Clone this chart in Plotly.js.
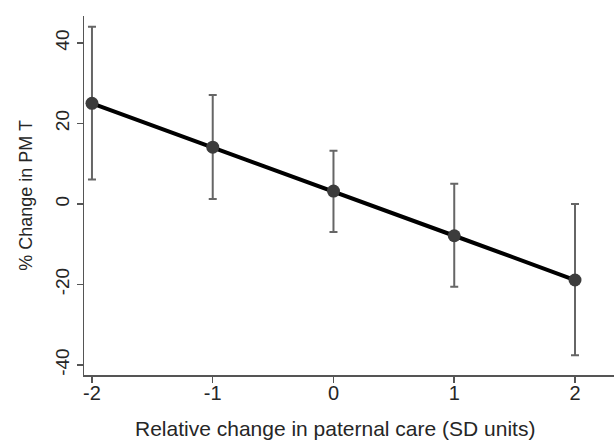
<!DOCTYPE html>
<html>
<head>
<meta charset="utf-8">
<script src="https://cdn.plot.ly/plotly-3.0.1.min.js"></script>
<style>html,body{margin:0;padding:0;background:#fff;}#chart{width:614px;height:444px;}</style>
</head>
<body>
<div id="chart"></div>
<script>
const xValues = [-2, -1, 0, 1, 2];
const estimates = [25.0, 14.1, 3.2, -7.9, -18.9];
const upperCI = [44.0, 27.1, 13.2, 5.0, 0.0];
const lowerCI = [6.1, 1.2, -7.0, -20.6, -37.6];
const xTickVals = [-2, -1, 0, 1, 2];
const xTickText = ['-2', '-1', '0', '1', '2'];
const yTickVals = [-40, -20, 0, 20, 40];
const yTickText = ['-40', '-20', '0', '20', '40'];
const xTitle = 'Relative change in paternal care (SD units)';
const yTitle = '% Change in PM T';

const errPlus = upperCI.map((u, i) => u - estimates[i]);
const errMinus = estimates.map((e, i) => e - lowerCI[i]);

const font = 'Liberation Sans, Arial, Helvetica, sans-serif';
const txt = '#262626';

const traces = [
  {
    x: xValues, y: estimates, mode: 'lines', type: 'scatter',
    line: {color: '#000000', width: 4}, hoverinfo: 'skip', showlegend: false
  },
  {
    x: xValues, y: estimates, mode: 'markers', type: 'scatter',
    marker: {color: '#3c3c3c', size: 13},
    error_y: {type: 'data', symmetric: false, array: errPlus, arrayminus: errMinus,
              color: '#666666', thickness: 2, width: 4},
    showlegend: false
  }
];

const layout = {
  width: 614, height: 444,
  margin: {l: 84, r: 0, t: 16, b: 69, pad: 0},
  paper_bgcolor: '#ffffff', plot_bgcolor: '#ffffff',
  font: {family: font, color: txt, size: 18},
  showlegend: false,
  xaxis: {
    range: [-2.066, 2.323], tickvals: xTickVals, ticktext: xTickText,
    showgrid: false, zeroline: false, showline: true, linecolor: '#555555', linewidth: 1.5,
    ticks: 'outside', ticklen: 6, tickcolor: '#555555', tickwidth: 1.5,
    ticklabelstandoff: -7,
    tickfont: {family: font, size: 20, color: txt}
  },
  yaxis: {
    range: [-42.5, 46.7], tickvals: yTickVals, ticktext: yTickText, tickangle: -90,
    showgrid: false, zeroline: false, showline: true, linecolor: '#555555', linewidth: 1.5,
    ticks: 'outside', ticklen: 6, tickcolor: '#555555', tickwidth: 1.5,
    tickfont: {family: font, size: 19, color: txt},
    title: {text: yTitle, font: {family: font, size: 18, color: txt}, standoff: 14}
  },
  annotations: [{
    text: xTitle, xref: 'paper', yref: 'paper', x: 0.4736, y: -0.15,
    xanchor: 'center', yanchor: 'middle', showarrow: false,
    font: {family: font, size: 21, color: txt}
  }]
};

Plotly.newPlot('chart', traces, layout, {displayModeBar: false, staticPlot: true});
</script>
</body>
</html>
